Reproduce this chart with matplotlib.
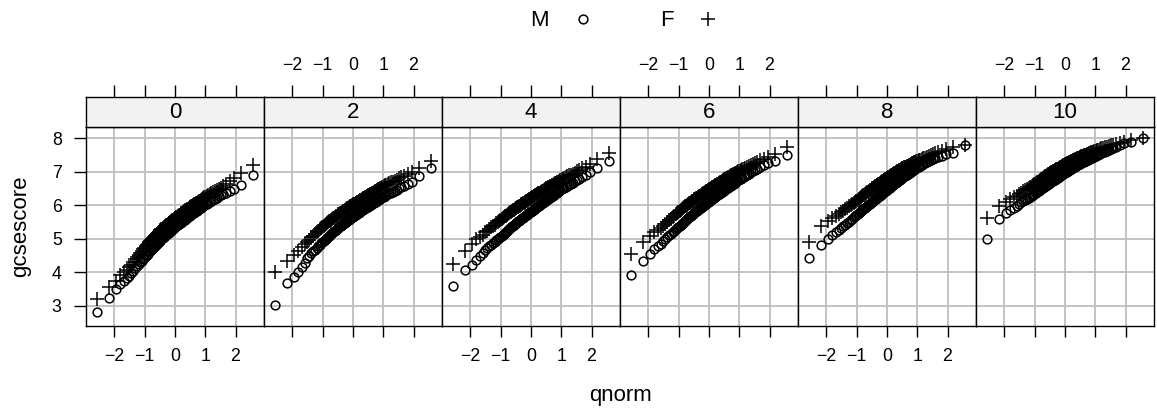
import matplotlib.pyplot as plt
from matplotlib.lines import Line2D
from statistics import NormalDist

plt.rcParams['font.family'] = ['Liberation Sans', 'DejaVu Sans']

# panels: A-level chemistry score
scores = ['0', '2', '4', '6', '8', '10']

# gcsescore quantiles (100 per group), males
M_0 = [2.80, 3.22, 3.50, 3.65, 3.74, 3.82, 3.89, 3.97, 4.04, 4.11,
       4.17, 4.23, 4.29, 4.34, 4.38, 4.43, 4.47, 4.51, 4.55, 4.59,
       4.62, 4.66, 4.69, 4.73, 4.76, 4.79, 4.82, 4.85, 4.88, 4.91,
       4.94, 4.96, 4.99, 5.01, 5.03, 5.05, 5.07, 5.09, 5.12, 5.14,
       5.16, 5.18, 5.20, 5.22, 5.24, 5.26, 5.28, 5.30, 5.32, 5.34,
       5.36, 5.38, 5.40, 5.41, 5.43, 5.45, 5.46, 5.48, 5.50, 5.52,
       5.54, 5.56, 5.57, 5.59, 5.61, 5.63, 5.65, 5.67, 5.69, 5.71,
       5.73, 5.74, 5.76, 5.78, 5.80, 5.82, 5.84, 5.87, 5.89, 5.91,
       5.93, 5.95, 5.98, 6.00, 6.03, 6.05, 6.08, 6.10, 6.13, 6.16,
       6.19, 6.23, 6.27, 6.31, 6.35, 6.38, 6.42, 6.48, 6.60, 6.89]
M_2 = [3.02, 3.69, 3.87, 4.00, 4.14, 4.28, 4.41, 4.49, 4.56, 4.62,
       4.67, 4.72, 4.77, 4.82, 4.86, 4.91, 4.94, 4.97, 5.00, 5.03,
       5.06, 5.09, 5.12, 5.14, 5.17, 5.19, 5.22, 5.24, 5.26, 5.29,
       5.31, 5.33, 5.35, 5.37, 5.39, 5.41, 5.43, 5.45, 5.46, 5.48,
       5.50, 5.52, 5.54, 5.56, 5.57, 5.59, 5.61, 5.62, 5.64, 5.66,
       5.67, 5.69, 5.71, 5.72, 5.74, 5.75, 5.77, 5.78, 5.80, 5.81,
       5.83, 5.85, 5.86, 5.88, 5.90, 5.91, 5.93, 5.95, 5.96, 5.98,
       5.99, 6.01, 6.02, 6.04, 6.06, 6.08, 6.10, 6.11, 6.13, 6.15,
       6.17, 6.19, 6.21, 6.24, 6.26, 6.28, 6.31, 6.33, 6.36, 6.38,
       6.41, 6.44, 6.47, 6.51, 6.54, 6.58, 6.63, 6.71, 6.86, 7.10]
M_4 = [3.59, 4.05, 4.22, 4.36, 4.48, 4.57, 4.66, 4.72, 4.77, 4.82,
       4.86, 4.91, 4.95, 4.99, 5.02, 5.06, 5.09, 5.12, 5.15, 5.18,
       5.21, 5.24, 5.27, 5.29, 5.32, 5.34, 5.37, 5.39, 5.41, 5.44,
       5.46, 5.48, 5.50, 5.52, 5.54, 5.56, 5.58, 5.60, 5.61, 5.63,
       5.65, 5.67, 5.69, 5.71, 5.72, 5.74, 5.76, 5.77, 5.79, 5.81,
       5.82, 5.84, 5.86, 5.87, 5.89, 5.91, 5.92, 5.94, 5.96, 5.97,
       5.99, 6.01, 6.03, 6.05, 6.07, 6.08, 6.10, 6.12, 6.14, 6.16,
       6.18, 6.19, 6.21, 6.23, 6.25, 6.27, 6.29, 6.32, 6.34, 6.36,
       6.38, 6.40, 6.43, 6.45, 6.48, 6.51, 6.53, 6.56, 6.59, 6.61,
       6.64, 6.68, 6.72, 6.76, 6.79, 6.84, 6.90, 6.98, 7.10, 7.32]
M_6 = [3.90, 4.34, 4.55, 4.70, 4.78, 4.85, 4.93, 5.00, 5.06, 5.11,
       5.15, 5.20, 5.24, 5.28, 5.32, 5.36, 5.39, 5.42, 5.45, 5.48,
       5.51, 5.54, 5.57, 5.59, 5.62, 5.64, 5.67, 5.69, 5.71, 5.74,
       5.76, 5.78, 5.80, 5.82, 5.84, 5.86, 5.88, 5.90, 5.91, 5.93,
       5.95, 5.97, 5.99, 6.01, 6.02, 6.04, 6.06, 6.07, 6.09, 6.11,
       6.13, 6.15, 6.16, 6.18, 6.19, 6.21, 6.23, 6.24, 6.26, 6.28,
       6.30, 6.32, 6.33, 6.35, 6.37, 6.38, 6.40, 6.42, 6.44, 6.46,
       6.48, 6.49, 6.51, 6.53, 6.55, 6.57, 6.59, 6.61, 6.63, 6.65,
       6.68, 6.70, 6.73, 6.75, 6.78, 6.80, 6.83, 6.85, 6.88, 6.91,
       6.94, 6.98, 7.02, 7.06, 7.09, 7.14, 7.19, 7.25, 7.33, 7.50]
M_8 = [4.42, 4.80, 5.00, 5.11, 5.19, 5.25, 5.31, 5.37, 5.42, 5.47,
       5.51, 5.56, 5.60, 5.64, 5.67, 5.71, 5.74, 5.77, 5.80, 5.83,
       5.85, 5.88, 5.91, 5.93, 5.96, 5.98, 6.01, 6.03, 6.05, 6.07,
       6.09, 6.11, 6.14, 6.16, 6.18, 6.20, 6.22, 6.24, 6.25, 6.27,
       6.29, 6.31, 6.33, 6.35, 6.37, 6.39, 6.41, 6.42, 6.44, 6.46,
       6.48, 6.50, 6.52, 6.53, 6.55, 6.57, 6.58, 6.60, 6.62, 6.64,
       6.66, 6.68, 6.69, 6.71, 6.73, 6.75, 6.77, 6.79, 6.81, 6.83,
       6.85, 6.86, 6.88, 6.90, 6.91, 6.93, 6.95, 6.97, 6.99, 7.01,
       7.04, 7.06, 7.08, 7.11, 7.13, 7.15, 7.18, 7.20, 7.23, 7.25,
       7.28, 7.31, 7.35, 7.39, 7.42, 7.45, 7.48, 7.52, 7.57, 7.80]
M_10 = [5.00, 5.60, 5.77, 5.86, 5.93, 5.99, 6.04, 6.09, 6.13, 6.16,
        6.19, 6.23, 6.26, 6.29, 6.31, 6.34, 6.37, 6.39, 6.42, 6.44,
        6.47, 6.49, 6.51, 6.53, 6.55, 6.57, 6.59, 6.61, 6.63, 6.65,
        6.67, 6.69, 6.70, 6.72, 6.74, 6.75, 6.77, 6.79, 6.80, 6.82,
        6.83, 6.85, 6.86, 6.87, 6.89, 6.90, 6.92, 6.93, 6.95, 6.96,
        6.98, 6.99, 7.00, 7.02, 7.03, 7.05, 7.06, 7.08, 7.09, 7.11,
        7.12, 7.13, 7.15, 7.16, 7.18, 7.19, 7.21, 7.22, 7.24, 7.25,
        7.26, 7.28, 7.29, 7.30, 7.32, 7.33, 7.35, 7.36, 7.38, 7.39,
        7.41, 7.42, 7.44, 7.45, 7.47, 7.49, 7.51, 7.53, 7.55, 7.58,
        7.60, 7.63, 7.65, 7.68, 7.72, 7.75, 7.80, 7.85, 7.90, 8.00]

# gcsescore quantiles (100 per group), females
F_0 = [3.20, 3.57, 3.75, 3.90, 4.00, 4.07, 4.14, 4.22, 4.30, 4.38,
       4.44, 4.51, 4.57, 4.62, 4.68, 4.73, 4.77, 4.81, 4.85, 4.89,
       4.92, 4.96, 5.00, 5.03, 5.06, 5.09, 5.12, 5.15, 5.18, 5.21,
       5.24, 5.26, 5.28, 5.30, 5.32, 5.34, 5.36, 5.38, 5.40, 5.42,
       5.44, 5.46, 5.48, 5.50, 5.52, 5.54, 5.56, 5.57, 5.59, 5.61,
       5.63, 5.65, 5.66, 5.68, 5.69, 5.71, 5.72, 5.74, 5.76, 5.78,
       5.80, 5.82, 5.83, 5.85, 5.87, 5.88, 5.90, 5.92, 5.94, 5.96,
       5.98, 5.99, 6.01, 6.03, 6.04, 6.06, 6.08, 6.10, 6.12, 6.14,
       6.17, 6.19, 6.21, 6.24, 6.26, 6.28, 6.31, 6.33, 6.36, 6.39,
       6.42, 6.45, 6.49, 6.53, 6.58, 6.65, 6.72, 6.82, 6.97, 7.19]
F_2 = [4.00, 4.34, 4.50, 4.63, 4.74, 4.84, 4.91, 4.97, 5.04, 5.09,
       5.14, 5.19, 5.24, 5.28, 5.32, 5.36, 5.39, 5.41, 5.44, 5.47,
       5.49, 5.52, 5.54, 5.57, 5.59, 5.61, 5.63, 5.65, 5.67, 5.69,
       5.71, 5.73, 5.74, 5.76, 5.78, 5.79, 5.81, 5.83, 5.84, 5.86,
       5.88, 5.89, 5.91, 5.92, 5.94, 5.95, 5.97, 5.98, 6.00, 6.01,
       6.03, 6.04, 6.05, 6.07, 6.08, 6.10, 6.11, 6.13, 6.14, 6.16,
       6.17, 6.18, 6.20, 6.21, 6.23, 6.24, 6.26, 6.28, 6.29, 6.31,
       6.32, 6.34, 6.35, 6.37, 6.38, 6.40, 6.42, 6.44, 6.46, 6.48,
       6.49, 6.51, 6.53, 6.56, 6.58, 6.60, 6.62, 6.64, 6.66, 6.69,
       6.71, 6.74, 6.77, 6.81, 6.84, 6.88, 6.93, 7.00, 7.12, 7.32]
F_4 = [4.25, 4.62, 4.85, 4.99, 5.06, 5.12, 5.19, 5.24, 5.29, 5.34,
       5.38, 5.42, 5.46, 5.49, 5.53, 5.56, 5.59, 5.61, 5.64, 5.67,
       5.69, 5.72, 5.74, 5.77, 5.79, 5.81, 5.83, 5.85, 5.87, 5.89,
       5.91, 5.93, 5.94, 5.96, 5.98, 5.99, 6.01, 6.03, 6.04, 6.06,
       6.08, 6.09, 6.11, 6.12, 6.14, 6.15, 6.17, 6.18, 6.20, 6.21,
       6.23, 6.24, 6.25, 6.27, 6.28, 6.30, 6.31, 6.33, 6.34, 6.36,
       6.37, 6.38, 6.40, 6.41, 6.43, 6.44, 6.46, 6.48, 6.49, 6.51,
       6.52, 6.54, 6.55, 6.57, 6.58, 6.60, 6.62, 6.64, 6.66, 6.68,
       6.69, 6.71, 6.73, 6.76, 6.78, 6.80, 6.82, 6.84, 6.86, 6.89,
       6.91, 6.94, 6.97, 7.01, 7.05, 7.10, 7.15, 7.23, 7.37, 7.57]
F_6 = [4.55, 4.89, 5.08, 5.19, 5.27, 5.33, 5.39, 5.45, 5.51, 5.56,
       5.60, 5.65, 5.69, 5.73, 5.77, 5.81, 5.84, 5.86, 5.89, 5.92,
       5.94, 5.97, 5.99, 6.02, 6.04, 6.06, 6.08, 6.10, 6.12, 6.14,
       6.16, 6.18, 6.19, 6.21, 6.23, 6.24, 6.26, 6.28, 6.29, 6.31,
       6.33, 6.34, 6.36, 6.37, 6.39, 6.40, 6.42, 6.43, 6.45, 6.46,
       6.48, 6.49, 6.51, 6.52, 6.54, 6.55, 6.57, 6.58, 6.60, 6.61,
       6.63, 6.65, 6.66, 6.68, 6.70, 6.71, 6.73, 6.75, 6.76, 6.78,
       6.79, 6.81, 6.82, 6.84, 6.85, 6.87, 6.89, 6.90, 6.92, 6.94,
       6.95, 6.97, 6.99, 7.01, 7.03, 7.05, 7.07, 7.09, 7.11, 7.14,
       7.16, 7.19, 7.22, 7.26, 7.29, 7.34, 7.39, 7.45, 7.53, 7.75]
F_8 = [4.89, 5.37, 5.52, 5.61, 5.67, 5.73, 5.79, 5.84, 5.89, 5.93,
       5.97, 6.01, 6.05, 6.08, 6.11, 6.14, 6.17, 6.19, 6.22, 6.25,
       6.27, 6.30, 6.32, 6.35, 6.37, 6.39, 6.41, 6.43, 6.45, 6.47,
       6.49, 6.51, 6.53, 6.55, 6.57, 6.58, 6.60, 6.62, 6.63, 6.65,
       6.67, 6.68, 6.70, 6.72, 6.73, 6.75, 6.77, 6.78, 6.80, 6.81,
       6.83, 6.84, 6.85, 6.87, 6.88, 6.90, 6.91, 6.93, 6.94, 6.96,
       6.97, 6.98, 7.00, 7.01, 7.03, 7.04, 7.06, 7.07, 7.09, 7.10,
       7.11, 7.13, 7.14, 7.15, 7.17, 7.18, 7.20, 7.21, 7.23, 7.25,
       7.26, 7.28, 7.30, 7.31, 7.33, 7.35, 7.36, 7.38, 7.40, 7.42,
       7.44, 7.47, 7.50, 7.53, 7.56, 7.59, 7.63, 7.68, 7.75, 7.80]
F_10 = [5.62, 5.97, 6.10, 6.18, 6.24, 6.29, 6.34, 6.38, 6.42, 6.46,
        6.49, 6.52, 6.55, 6.58, 6.61, 6.64, 6.66, 6.69, 6.71, 6.73,
        6.76, 6.78, 6.80, 6.82, 6.84, 6.86, 6.88, 6.90, 6.92, 6.94,
        6.96, 6.97, 6.99, 7.00, 7.01, 7.03, 7.04, 7.05, 7.07, 7.08,
        7.09, 7.11, 7.12, 7.13, 7.15, 7.16, 7.17, 7.19, 7.20, 7.21,
        7.23, 7.24, 7.25, 7.26, 7.27, 7.28, 7.29, 7.30, 7.31, 7.33,
        7.34, 7.35, 7.36, 7.37, 7.38, 7.40, 7.41, 7.42, 7.44, 7.45,
        7.46, 7.47, 7.48, 7.49, 7.50, 7.51, 7.52, 7.54, 7.55, 7.56,
        7.58, 7.59, 7.60, 7.62, 7.63, 7.65, 7.66, 7.68, 7.70, 7.71,
        7.73, 7.75, 7.77, 7.79, 7.81, 7.84, 7.87, 7.90, 7.95, 8.00]

males = [M_0, M_2, M_4, M_6, M_8, M_10]
females = [F_0, F_2, F_4, F_6, F_8, F_10]

xticks = [-2, -1, 0, 1, 2]
yticks = [3, 4, 5, 6, 7, 8]


def qnorm_positions(vals):
    # theoretical normal quantiles at ppoints(n), as qqmath does
    n = len(vals)
    return [NormalDist().inv_cdf((i + 0.5) / n) for i in range(n)]


W, H = 1157, 413
fig = plt.figure(figsize=(W / 100, H / 100), dpi=100)

left, pw = 86 / W, 178 / W
bot, ph = 1 - 326 / H, 199 / H
sbot, sh = 1 - 127 / H, 30 / H

fs = 16
tfs = 12.8
grid_col = '#bebebe'
mk = dict(linestyle='none', color='black', markerfacecolor='none')
circ = dict(marker='o', markersize=6.3, markeredgewidth=1.1)
plus = dict(marker='+', markersize=9.5, markeredgewidth=1.1)

for i, sc in enumerate(scores):
    ax = fig.add_axes([left + i * pw, bot, pw, ph])
    ax.set_xlim(-2.94, 2.94)
    ax.set_ylim(2.39, 8.34)
    for gx in xticks:
        ax.axvline(gx, color=grid_col, lw=1.3, zorder=0)
    for gy in yticks:
        ax.axhline(gy, color=grid_col, lw=1.3, zorder=0)
    ax.plot(qnorm_positions(males[i]), males[i], **circ, **mk)
    ax.plot(qnorm_positions(females[i]), females[i], **plus, **mk)
    for s in ax.spines.values():
        s.set_linewidth(1.0)
    ax.set_xticks(xticks)
    ax.tick_params(axis='x', direction='out', length=8, width=1.0, pad=8,
                   labelsize=tfs, top=False, bottom=True,
                   labelbottom=(i % 2 == 0))
    if i == 0:
        ax.set_yticks(yticks)
        ax.tick_params(axis='y', direction='out', length=8.5, width=1.0, pad=9,
                       labelsize=tfs)
    else:
        ax.set_yticks([])

    # strip above the panel, carries the top axis
    st = fig.add_axes([left + i * pw, sbot, pw, sh])
    st.set_xlim(-2.94, 2.94)
    st.set_ylim(0, 1)
    st.set_facecolor('#f2f2f2')
    for s in st.spines.values():
        s.set_linewidth(1.0)
    st.set_yticks([])
    st.set_xticks(xticks)
    st.tick_params(axis='x', direction='out', length=9, width=1.0, pad=7.5,
                   labelsize=tfs, top=True, bottom=False,
                   labeltop=(i % 2 == 1), labelbottom=False)
    st.text(0, 0.47, sc, ha='center', va='center', fontsize=fs)

# key
ky = 1 - 20 / H
fig.text(530 / W, ky, 'M', ha='left', va='center', fontsize=fs)
fig.add_artist(Line2D([583 / W], [1 - 19 / H], transform=fig.transFigure,
                      **circ, **mk))
fig.text(660 / W, ky, 'F', ha='left', va='center', fontsize=fs)
fig.add_artist(Line2D([708 / W], [1 - 19 / H], transform=fig.transFigure,
                      **plus, **mk))

fig.text(620 / W, 1 - 396 / H, 'qnorm', ha='center', va='center', fontsize=fs)
fig.text(21 / W, 1 - 226 / H, 'gcsescore', ha='center', va='center',
         rotation=90, fontsize=fs)

fig.savefig('out.png', dpi=100)
